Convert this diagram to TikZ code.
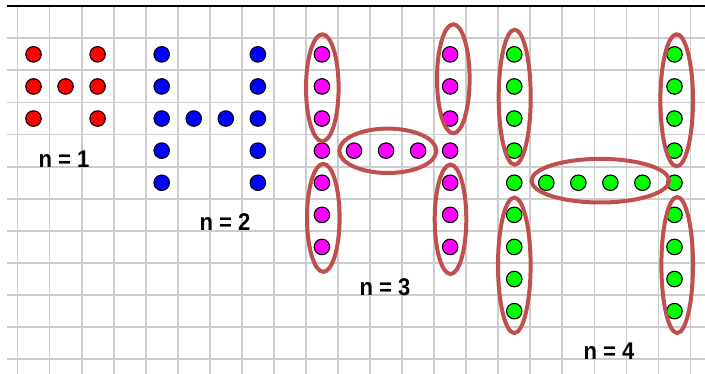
\documentclass[tikz,border=0pt]{standalone}
\usepackage{fontspec}
\setmainfont{Liberation Sans}
\definecolor{ringc}{HTML}{C0504D}
\definecolor{gridc}{HTML}{CCCCCC}
\tikzset{
  dotbase/.style={circle, draw=black, line width=1.1pt, minimum size=15.5pt, inner sep=0pt},
  rdot/.style={dotbase, fill={rgb,255:red,255;green,0;blue,0}},
  bdot/.style={dotbase, fill={rgb,255:red,0;green,0;blue,255}},
  mdot/.style={dotbase, fill={rgb,255:red,255;green,0;blue,255}},
  gdot/.style={dotbase, fill={rgb,255:red,0;green,255;blue,0}},
  ring/.style={draw=ringc, line width=4pt},
  gridline/.style={draw=gridc, line width=1.8pt},
  lab/.style={font=\bfseries\fontsize{21}{21}\selectfont, inner sep=0pt, xscale=1.05, yscale=1.15}
}
\begin{document}
\begin{tikzpicture}[x=1pt, y=-1pt]
\useasboundingbox (0,0) rectangle (705,374);
\fill[white] (0,0) rectangle (705,374);
\begin{scope}
\clip (0,0) rectangle (705,374);
% grid
\foreach \i in {0,...,21} {
  \draw[gridline] ({17.5+32.05*\i},6.5) -- ({17.5+32.05*\i},374);
}
\foreach \j in {0,...,10} {
  \draw[gridline] (7,{38.3+32.1*\j}) -- (705,{38.3+32.1*\j});
}
\draw[black, line width=2pt] (7,6.5) -- (705,6.5);
\end{scope}
% n = 1
\foreach \i/\j in {0/0,0/1,0/2,1/1,2/0,2/1,2/2} {
  \node[rdot] (r\i\j) at ({33.5+32.05*\i},{54.35+32.1*\j}) {};
}
% n = 2
\foreach \i/\j in {4/0,4/1,4/2,4/3,4/4,5/2,6/2,7/0,7/1,7/2,7/3,7/4} {
  \node[bdot] (b\i\j) at ({33.5+32.05*\i},{54.35+32.1*\j}) {};
}
% n = 3
\foreach \j in {0,...,6} {
  \node[mdot] (mL\j) at ({33.5+32.05*9},{54.35+32.1*\j}) {};
  \node[mdot] (mR\j) at ({33.5+32.05*13},{54.35+32.1*\j}) {};
}
\foreach \i in {10,11,12} {
  \node[mdot] (mM\i) at ({33.5+32.05*\i},{54.35+32.1*3}) {};
}
% n = 4
\foreach \j in {0,...,8} {
  \node[gdot] (gL\j) at ({33.5+32.05*15},{54.35+32.1*\j}) {};
  \node[gdot] (gR\j) at ({33.5+32.05*20},{54.35+32.1*\j}) {};
}
\foreach \i in {16,17,18,19} {
  \node[gdot] (gM\i) at ({33.5+32.05*\i},{54.35+32.1*4}) {};
}
% rings n = 3
\draw[ring] (322.3,87.8) ellipse [x radius=16.3, y radius=53.5];
\draw[ring] (453.3,78.8) ellipse [x radius=16.3, y radius=54.5];
\draw[ring] (387.8,150.8) ellipse [x radius=48.5, y radius=22.2];
\draw[ring] (323.3,217.8) ellipse [x radius=16.3, y radius=54];
\draw[ring] (450.5,219.3) ellipse [x radius=15.8, y radius=54.7];
% rings n = 4
\draw[ring] (514.7,97.2) ellipse [x radius=16, y radius=67.5];
\draw[ring] (676.7,100.3) ellipse [x radius=16.3, y radius=66];
\draw[ring] (600.3,180.7) ellipse [x radius=68.8, y radius=21.8];
\draw[ring] (514.3,265.3) ellipse [x radius=16.3, y radius=67.7];
\draw[ring] (677.2,265) ellipse [x radius=15.8, y radius=68];
% labels
\node[lab] (l1) at (64,159) {n = 1};
\node[lab] (l2) at (225,222) {n = 2};
\node[lab] (l3) at (385,287) {n = 3};
\node[lab] (l4) at (609,351) {n = 4};
\end{tikzpicture}
\end{document}
